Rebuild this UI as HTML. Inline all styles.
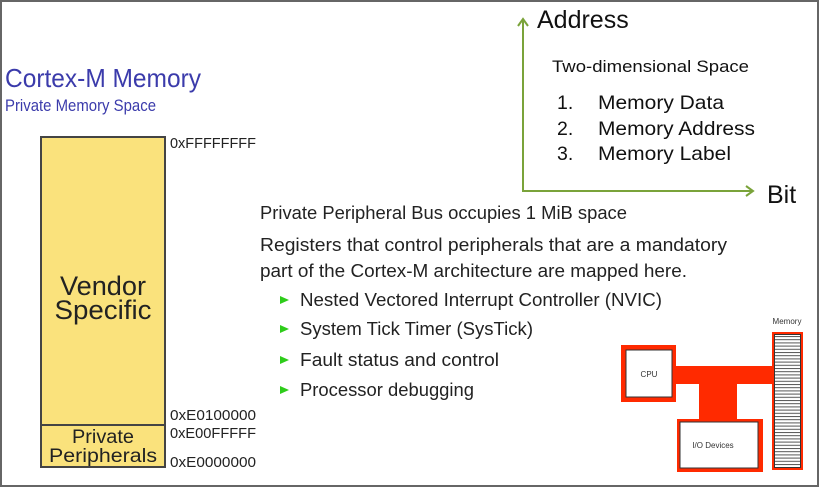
<!DOCTYPE html>
<html><head><meta charset="utf-8"><style>
html,body{margin:0;padding:0;background:#fff;}
svg{display:block;}
</style></head><body>
<svg width="820" height="488" viewBox="0 0 820 488" xmlns="http://www.w3.org/2000/svg" font-family="Liberation Sans, sans-serif">
<defs>
<pattern id="stripes" width="4" height="3.2" patternUnits="userSpaceOnUse">
<rect width="4" height="3.2" fill="#fff"/><rect y="0" width="4" height="1" fill="#555"/>
</pattern>
</defs>
<rect x="0" y="0" width="820" height="488" fill="#fff"/>
<rect x="1" y="1" width="817" height="485" fill="none" stroke="#666" stroke-width="2"/>

<text x="5" y="87" font-size="26" fill="#3b3bab" textLength="196" lengthAdjust="spacingAndGlyphs">Cortex-M Memory</text>
<text x="5" y="111" font-size="17" fill="#3b3bab" textLength="151" lengthAdjust="spacingAndGlyphs">Private Memory Space</text>

<rect x="41" y="137" width="124" height="330" fill="#fae27c" stroke="#444" stroke-width="2"/>
<line x1="41" y1="425" x2="165" y2="425" stroke="#444" stroke-width="2"/>
<text x="103" y="295" font-size="27" text-anchor="middle" fill="#222" textLength="86" lengthAdjust="spacingAndGlyphs">Vendor</text>
<text x="103" y="319" font-size="27" text-anchor="middle" fill="#222" textLength="97" lengthAdjust="spacingAndGlyphs">Specific</text>
<text x="103" y="443" font-size="19" text-anchor="middle" fill="#222" textLength="62" lengthAdjust="spacingAndGlyphs">Private</text>
<text x="103" y="462" font-size="19" text-anchor="middle" fill="#222" textLength="108" lengthAdjust="spacingAndGlyphs">Peripherals</text>

<g font-size="15" fill="#222">
<text x="170" y="148" textLength="86" lengthAdjust="spacingAndGlyphs">0xFFFFFFFF</text>
<text x="170" y="420" textLength="86" lengthAdjust="spacingAndGlyphs">0xE0100000</text>
<text x="170" y="438" textLength="86" lengthAdjust="spacingAndGlyphs">0xE00FFFFF</text>
<text x="170" y="467" textLength="86" lengthAdjust="spacingAndGlyphs">0xE0000000</text>
</g>

<g stroke="#7aa33a" stroke-width="2" fill="none">
<polyline points="523,20 523,191 753,191"/>
<polyline points="518,26 523,19 528,26"/>
<polyline points="746,186 753,191 746,196"/>
</g>
<text x="537" y="28" font-size="25" fill="#111">Address</text>
<text x="767" y="203" font-size="25" fill="#111">Bit</text>
<text x="552" y="72" font-size="17" fill="#111" textLength="197" lengthAdjust="spacingAndGlyphs">Two-dimensional Space</text>
<g font-size="19.5" fill="#111">
<text x="557" y="109">1.</text><text x="598" y="109" textLength="126" lengthAdjust="spacingAndGlyphs">Memory Data</text>
<text x="557" y="135">2.</text><text x="598" y="135" textLength="157" lengthAdjust="spacingAndGlyphs">Memory Address</text>
<text x="557" y="160">3.</text><text x="598" y="160" textLength="133" lengthAdjust="spacingAndGlyphs">Memory Label</text>
</g>

<g font-size="18" fill="#222">
<text x="260" y="219" textLength="367" lengthAdjust="spacingAndGlyphs">Private Peripheral Bus occupies 1 MiB space</text>
<text x="260" y="251" textLength="467" lengthAdjust="spacingAndGlyphs">Registers that control peripherals that are a mandatory</text>
<text x="260" y="277" textLength="427" lengthAdjust="spacingAndGlyphs">part of the Cortex-M architecture are mapped here.</text>
<text x="300" y="306" textLength="362" lengthAdjust="spacingAndGlyphs">Nested Vectored Interrupt Controller (NVIC)</text>
<text x="300" y="335" textLength="233" lengthAdjust="spacingAndGlyphs">System Tick Timer (SysTick)</text>
<text x="300" y="366" textLength="199" lengthAdjust="spacingAndGlyphs">Fault status and control</text>
<text x="300" y="396" textLength="174" lengthAdjust="spacingAndGlyphs">Processor debugging</text>
</g>
<g fill="#2ecc1a">
<polygon points="280,296 289,300 280,304"/>
<polygon points="280,325 289,329 280,333"/>
<polygon points="280,356 289,360 280,364"/>
<polygon points="280,386 289,390 280,394"/>
</g>

<g fill="#ff2a00">
<rect x="621" y="345" width="55" height="57"/>
<rect x="676" y="366" width="98" height="18"/>
<rect x="699" y="383" width="38" height="38"/>
<rect x="677" y="419" width="86" height="53"/>
<rect x="772" y="332" width="31" height="138"/>
</g>
<rect x="626" y="350" width="46" height="47" fill="#fff" stroke="#333" stroke-width="1"/>
<rect x="680" y="422" width="78" height="46" fill="#fff" stroke="#333" stroke-width="1"/>
<rect x="774.5" y="334.5" width="26" height="133" fill="url(#stripes)" stroke="#333" stroke-width="1"/>
<text x="649" y="377" font-size="8" text-anchor="middle" fill="#333">CPU</text>
<text x="713" y="448" font-size="8" text-anchor="middle" fill="#333">I/O Devices</text>
<text x="787" y="324" font-size="8" text-anchor="middle" fill="#333">Memory</text>
</svg>
</body></html>
